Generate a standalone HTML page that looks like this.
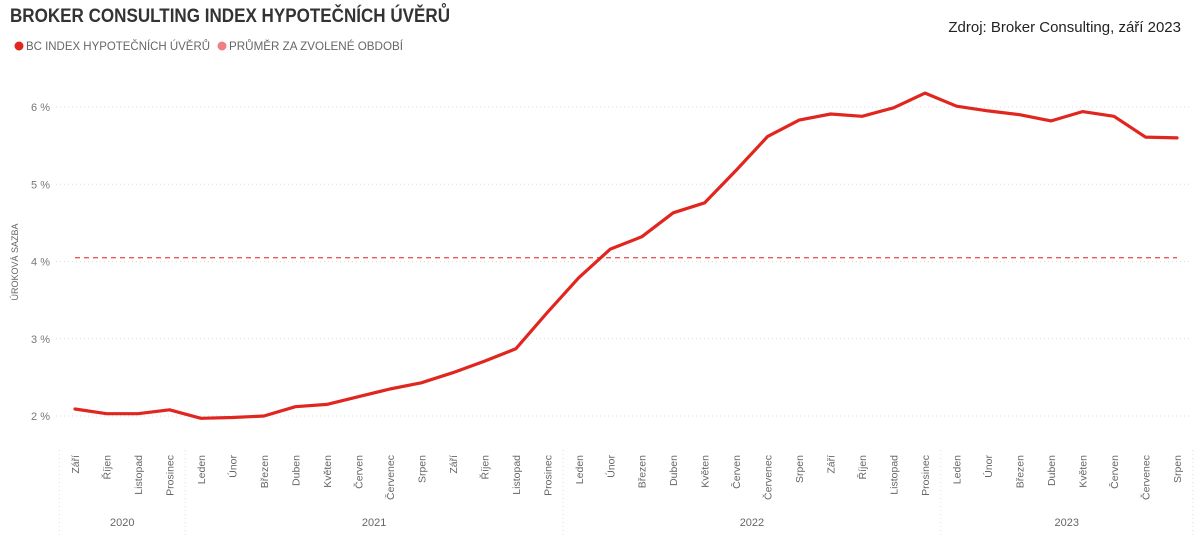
<!DOCTYPE html>
<html><head><meta charset="utf-8">
<style>
html,body{margin:0;padding:0;background:#fff;}
body{width:1200px;height:536px;overflow:hidden;position:relative;font-family:"Liberation Sans",sans-serif;}
</style></head>
<body>
<svg id="chart" width="1200" height="536" xmlns="http://www.w3.org/2000/svg" style="position:absolute;left:0;top:0">
  <text x="10" y="22" font-size="19" font-weight="bold" fill="#333" font-family="Liberation Sans, sans-serif" textLength="440" lengthAdjust="spacingAndGlyphs">BROKER CONSULTING INDEX HYPOTEČNÍCH ÚVĚRŮ</text>
  <text x="1181" y="32" font-size="15" fill="#222" text-anchor="end">Zdroj: Broker Consulting, září 2023</text>
  <g>
    <circle cx="19" cy="46" r="4.5" fill="#e0261e"/>
    <text x="26" y="50" font-size="12" fill="#666" textLength="184" lengthAdjust="spacingAndGlyphs">BC INDEX HYPOTEČNÍCH ÚVĚRŮ</text>
    <circle cx="222" cy="46" r="4.5" fill="#f08080"/>
    <text x="229" y="50" font-size="12" fill="#666" textLength="174" lengthAdjust="spacingAndGlyphs">PRŮMĚR ZA ZVOLENÉ OBDOBÍ</text>
  </g>
  <text transform="translate(18,262) rotate(-90)" font-size="9" fill="#666" text-anchor="middle">ÚROKOVÁ SAZBA</text>
  <g id="grid"></g>
  <g id="xaxis"></g>
  <g id="marks"></g>
</svg>
<script>
const months = ["Září","Říjen","Listopad","Prosinec","Leden","Únor","Březen","Duben","Květen","Červen","Červenec","Srpen","Září","Říjen","Listopad","Prosinec","Leden","Únor","Březen","Duben","Květen","Červen","Červenec","Srpen","Září","Říjen","Listopad","Prosinec","Leden","Únor","Březen","Duben","Květen","Červen","Červenec","Srpen"];
const years = ["2020","2021","2022","2023"];
const yearStarts = [0,4,16,28];
const values = [2.09,2.03,2.03,2.08,1.97,1.98,2.00,2.12,2.15,2.25,2.35,2.43,2.56,2.71,2.87,3.34,3.79,4.16,4.32,4.63,4.76,5.18,5.62,5.83,5.91,5.88,5.99,6.18,6.01,5.95,5.90,5.82,5.94,5.88,5.61,5.60];
const averageValue = [4.05];
const yTicks = [2,3,4,5,6];

const NS="http://www.w3.org/2000/svg";
const x0=75, x1=1177, yBase=416, yPer=77.25;
function xs(i){return x0+i*(x1-x0)/(months.length-1);}
function ys(v){return yBase-(v-2)*yPer;}
function mk(tag,attrs,parent){const e=document.createElementNS(NS,tag);for(const k in attrs)e.setAttribute(k,attrs[k]);parent.appendChild(e);return e;}
const grid=document.getElementById('grid'),xa=document.getElementById('xaxis'),marks=document.getElementById('marks');

yTicks.forEach(t=>{
  const l=mk('line',{x1:56,x2:1190,y1:ys(t),y2:ys(t),stroke:'#ddd','stroke-width':1,'stroke-dasharray':'1,3'},grid);
  
  
  const tx=mk('text',{x:50,y:ys(t)+4,'font-size':11,fill:'#777','text-anchor':'end'},grid);
  tx.textContent=t+' %';
  
  
});

const step=(x1-x0)/(months.length-1);
months.forEach((m,i)=>{
  const t=mk('text',{transform:`translate(${xs(i)+4},455) rotate(-90)`,'font-size':10.5,fill:'#666','text-anchor':'end'},xa);
  t.textContent=m;
  
  
});
const bounds=yearStarts.concat([months.length]);
for(let k=0;k<=years.length;k++){
  const xb=xs(bounds[k])-step/2;
  const l=mk('line',{x1:xb,x2:xb,y1:450,y2:536,stroke:'#ddd','stroke-width':1,'stroke-dasharray':'1,3'},xa);
  
  
}
years.forEach((y,k)=>{
  const a=xs(bounds[k])-step/2,b=xs(bounds[k+1])-step/2;
  const t=mk('text',{x:(a+b)/2,y:526,'font-size':11,fill:'#666','text-anchor':'middle'},xa);
  t.textContent=y;
  
  
});

const avg=mk('line',{x1:x0,x2:x1,y1:ys(averageValue[0]),y2:ys(averageValue[0]),stroke:'#ea5a54','stroke-width':1.4,'stroke-dasharray':'5,4'},marks);



const pts=values.map((v,i)=>xs(i).toFixed(1)+','+ys(v).toFixed(1)).join(' ');
const pl=mk('polyline',{points:pts,fill:'none',stroke:'#e0261e','stroke-width':3.2,'stroke-linejoin':'round','stroke-linecap':'round'},marks);


</script>
</body></html>
